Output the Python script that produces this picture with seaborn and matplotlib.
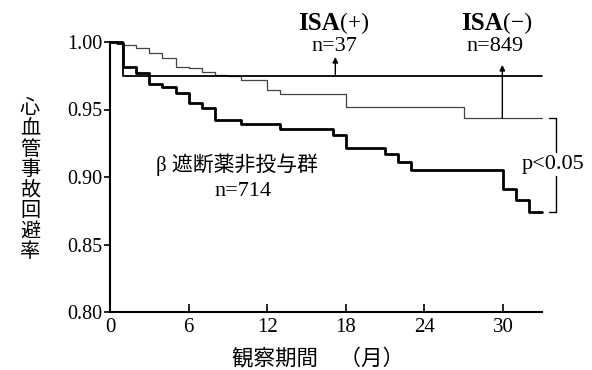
import matplotlib
matplotlib.use('Agg')
import matplotlib.pyplot as plt
import seaborn as sns

sns.set_theme(style='white')
SERIF = ['Liberation Serif', 'Noto Sans CJK JP', 'DejaVu Sans']
CJK = ['Noto Sans CJK JP', 'DejaVu Sans']
plt.rcParams['font.family'] = SERIF
plt.rcParams['text.color'] = 'black'

# ---- data ----
months_beta = [0, 0.5, 1, 2, 3, 4, 5, 6, 7, 8, 10, 13, 17, 18, 21, 22, 23, 30, 31, 32, 33]
surv_beta = [1.0, 0.999, 0.9817, 0.9773, 0.9687, 0.9664, 0.962, 0.955, 0.951, 0.9422,
             0.9393, 0.9353, 0.9311, 0.9213, 0.9168, 0.9109, 0.9052, 0.8909, 0.883,
             0.8743, 0.8743]
months_isa_minus = [0, 1, 2, 3, 4, 5, 6, 7, 8, 9, 10, 12, 13, 18, 27, 33]
surv_isa_minus = [1.0, 0.9978, 0.9953, 0.9916, 0.9879, 0.9817, 0.9805, 0.9776, 0.9752,
                  0.9745, 0.9715, 0.9645, 0.9613, 0.9516, 0.9435, 0.9435]
months_isa_plus = [0, 1, 33]
surv_isa_plus = [1.0, 0.9745, 0.9745]

x_ticks = [0, 6, 12, 18, 24, 30]
y_ticks = [0.80, 0.85, 0.90, 0.95, 1.00]
y_tick_labels = ['0.80', '0.85', '0.90', '0.95', '1.00']

W, H = 592, 370
fig = plt.figure(figsize=(W / 100, H / 100), dpi=100)
px_per_month = 13.1
xmax = 36
ytop = 1.005
ax_h = (312 - (42 - (ytop - 1.0) * 1350)) / H
ax = fig.add_axes([110 / W, 58 / H, xmax * px_per_month / W, ax_h])

sns.lineplot(x=months_isa_minus, y=surv_isa_minus, ax=ax, drawstyle='steps-post',
             estimator=None, color='#444444', lw=0.9)
sns.lineplot(x=months_isa_plus, y=surv_isa_plus, ax=ax, drawstyle='steps-post',
             estimator=None, color='black', lw=1.3)
sns.lineplot(x=months_beta, y=surv_beta, ax=ax, drawstyle='steps-post',
             estimator=None, color='black', lw=2.0)

ax.set_xlim(0, xmax)
ax.set_ylim(0.80, ytop)
ax.set_xticks(x_ticks)
ax.set_xticklabels([str(t) for t in x_ticks])
ax.set_yticks(y_ticks)
ax.set_yticklabels(y_tick_labels)
for s in ['top', 'right']:
    ax.spines[s].set_visible(False)
for s in ['left', 'bottom']:
    ax.spines[s].set_color('black')
    ax.spines[s].set_linewidth(1.5)
ax.spines['left'].set_bounds(0.80, 1.00)
ax.spines['bottom'].set_bounds(0, 33)
ax.tick_params(axis='y', direction='out', length=4, width=1.2, labelsize=14.5, pad=1.5,
               left=True, colors='black')
ax.tick_params(axis='x', direction='in', length=6, width=1.2, labelsize=15, pad=4,
               bottom=True, colors='black')
ax.set_xlabel('')
ax.set_ylabel('')
ax.grid(False)

# ---- annotations ----
arrow_kw = dict(arrowstyle='-|>', lw=1.0, color='black', mutation_scale=8, shrinkA=0, shrinkB=0)
ax.annotate('', xy=(17.2, 0.9889), xytext=(17.2, surv_isa_plus[-1]), arrowprops=arrow_kw,
            annotation_clip=False)
ax.annotate('', xy=(29.95, 0.983), xytext=(29.95, surv_isa_minus[-1]), arrowprops=arrow_kw,
            annotation_clip=False)

ax.text(17.56, 1.0135, 'ISA', ha='right', va='center', fontsize=18, fontweight='bold',
        family=SERIF, clip_on=False)
ax.text(17.56, 1.0135, '(+)', ha='left', va='center', fontsize=17, family=SERIF, clip_on=False)
ax.text(17.1, 0.997, 'n=37', ha='center', va='center', fontsize=16, family=SERIF, clip_on=False)
ax.text(30.02, 1.0135, 'ISA', ha='right', va='center', fontsize=18, fontweight='bold',
        family=SERIF, clip_on=False)
ax.text(30.02, 1.0135, '(−)', ha='left', va='center', fontsize=17, family=SERIF, clip_on=False)
ax.text(29.4, 0.997, 'n=849', ha='center', va='center', fontsize=16, family=SERIF, clip_on=False)

ax.text(9.7, 0.9089, 'β 遮断薬非投与群', ha='center', va='center', fontsize=15, family=SERIF)
ax.text(10.15, 0.8891, 'n=714', ha='center', va='center', fontsize=16, family=SERIF)

# bracket for p value
bx, btick = 34.05, 33.5
y_hi, y_lo = surv_isa_minus[-1], surv_beta[-1]
ax.plot([btick, bx, bx, btick], [y_hi, y_hi, y_lo, y_lo], color='black', lw=1.0, clip_on=False)
ax.text(33.8, 0.9089, 'p<0.05', ha='center', va='center', fontsize=16, family=SERIF,
        bbox=dict(facecolor='white', edgecolor='none', pad=1.5), clip_on=False)

# axis titles
fig.text(318 / W, 1 - 358 / H, '観察期間　（月）', ha='center', va='center', fontsize=15.5,
         family=CJK)
fig.text(30 / W, 1 - 180 / H, '\n'.join('心血管事故回避率'), ha='center', va='center',
         fontsize=14.5, family=CJK, linespacing=0.97)

fig.savefig('out.png', dpi=100, facecolor='white')
